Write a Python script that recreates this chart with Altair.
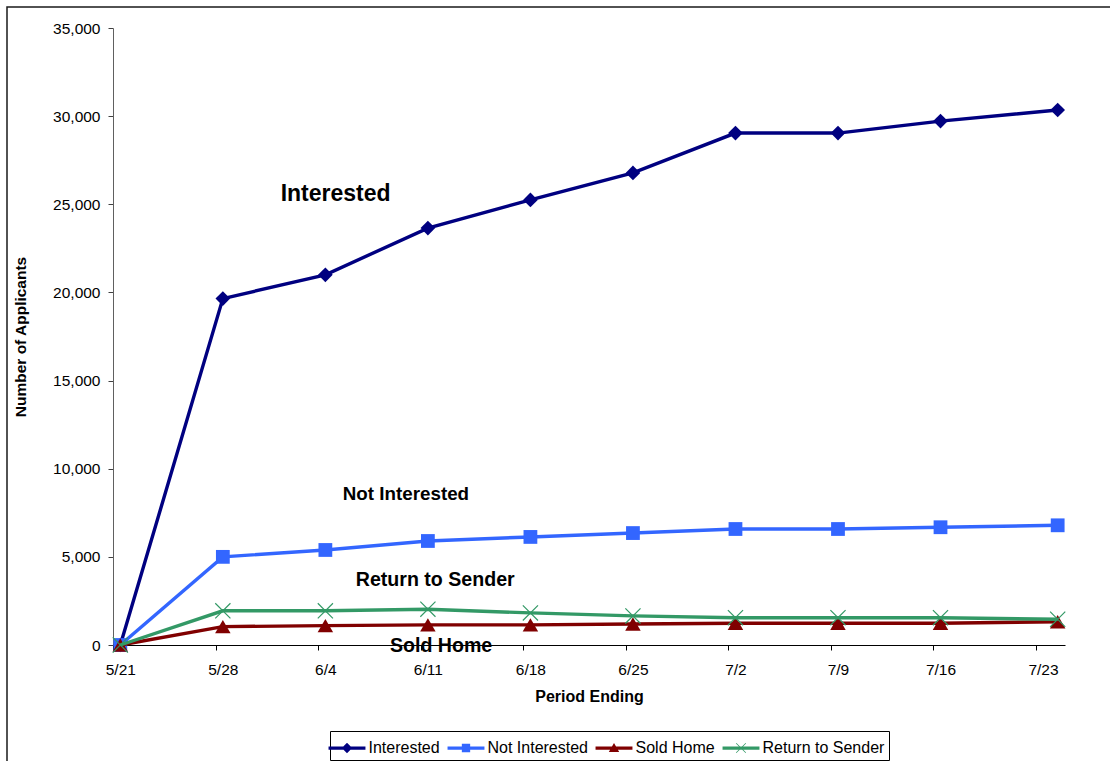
import json
import altair as alt
import pandas as pd

# Weekly reporting periods, as day offsets from 5/21 (last report arrived on 7/24)
period_days = [0, 7, 14, 21, 28, 35, 42, 49, 56, 64]
tick_labels = ["5/21", "5/28", "6/4", "6/11", "6/18", "6/25", "7/2", "7/9", "7/16", "7/23"]

series_names = ["Interested", "Not Interested", "Sold Home", "Return to Sender"]
interested = [0, 19650, 21000, 23650, 25250, 26780, 29040, 29040, 29720, 30350]
not_interested = [0, 5000, 5390, 5900, 6130, 6350, 6580, 6580, 6680, 6790]
sold_home = [0, 1040, 1100, 1140, 1140, 1190, 1230, 1230, 1230, 1320]
return_to_sender = [0, 1940, 1940, 2030, 1820, 1650, 1550, 1550, 1550, 1460]
series_colors = ["#000080", "#3366FF", "#800000", "#339966"]

# In-plot series labels
annotation_text = ["Interested", "Not Interested", "Return to Sender", "Sold Home"]
annotation_day = [14.7, 19.5, 21.5, 21.9]
annotation_value = [25200, 8230, 3360, -400]
annotation_size = [23, 18.8, 19.6, 19.6]

FONT = "Liberation Sans"

series_values = [interested, not_interested, sold_home, return_to_sender]
rows = []
for name, vals in zip(series_names, series_values):
    for d, v in zip(period_days, vals):
        rows.append({"series": name, "day": d, "applicants": v})
df = pd.DataFrame(rows)

ann_df = pd.DataFrame({
    "label": annotation_text,
    "day": annotation_day,
    "applicants": annotation_value,
    "fsize": annotation_size,
})

# Marker styles per series
x_path = "M-1,-1L1,1M-1,1L1,-1"
marker_shapes = ["diamond", "square", "triangle-up", x_path]
marker_sizes = [215, 190, 240, 230]
marker_filled = [True, True, True, False]

# Legend symbols: a short line segment with the series marker on top
legend_symbols = [
    "M-1.42,-0.125H1.42V0.125H-1.42Z M0,-0.4L0.4,0L0,0.4L-0.4,0Z",
    "M-1.42,-0.125H1.42V0.125H-1.42Z M-0.32,-0.32H0.32V0.32H-0.32Z",
    "M-1.42,-0.125H1.42V0.125H-1.42Z M0,-0.38L0.4,0.3L-0.4,0.3Z",
    "M-1.42,-0.125H1.42V0.125H-1.42Z "
    "M-0.35,-0.39L0.39,0.35L0.35,0.39L-0.39,-0.35Z "
    "M-0.39,0.35L0.35,-0.39L0.39,-0.35L-0.35,0.39Z",
]

tick_values = [d - 0.5 for d in range(0, 64, 7)]
label_expr = json.dumps(tick_labels) + "[round((datum.value + 0.5) / 7)]"

x_enc = alt.X(
    "day:Q",
    scale=alt.Scale(domain=[-0.5, 64.5], nice=False, zero=False),
    axis=alt.Axis(values=tick_values, labelExpr=label_expr, title="Period Ending"),
)
y_enc = alt.Y(
    "applicants:Q",
    scale=alt.Scale(domain=[0, 35000], nice=False),
    axis=alt.Axis(
        values=list(range(0, 35001, 5000)),
        labelExpr="format(datum.value, ',')",
        title="Number of Applicants",
    ),
)

base = alt.Chart(df)
layers = []

# Outer chart frame
frame = alt.Chart(pd.DataFrame({"f": [0]})).mark_rect(
    fillOpacity=0, stroke="#1a1a1a", strokeWidth=1.5
).encode(
    x=alt.value(-106), x2=alt.value(1400), y=alt.value(-21), y2=alt.value(1000)
)
layers.append(frame)

for i, name in enumerate(series_names):
    sub = base.transform_filter(alt.datum.series == name)
    line = sub.mark_line(strokeWidth=3.4, color=series_colors[i]).encode(x=x_enc, y=y_enc)
    pts = sub.mark_point(
        shape=marker_shapes[i],
        size=marker_sizes[i],
        filled=marker_filled[i],
        color=series_colors[i],
        opacity=1,
        strokeWidth=1.2,
    ).encode(x=x_enc, y=y_enc)
    layers += [line, pts]

# Legend-only layer: no rows drawn, entries come from the explicit scale domains
legend_pos = dict(orient="none", legendX=217, legendY=703, title=None)
legend_layer = base.transform_filter("false").mark_point(
    filled=True, opacity=1, size=676
).encode(
    x=x_enc,
    y=y_enc,
    color=alt.Color(
        "series:N",
        scale=alt.Scale(domain=series_names, range=series_colors),
        legend=alt.Legend(**legend_pos),
    ),
    shape=alt.Shape(
        "series:N",
        scale=alt.Scale(domain=series_names, range=legend_symbols),
        legend=alt.Legend(**legend_pos),
    ),
)
layers.append(legend_layer)

labels = alt.Chart(ann_df).mark_text(
    font=FONT, fontWeight="bold", align="center", baseline="alphabetic", color="#000000"
).encode(
    x=x_enc,
    y=y_enc,
    text="label:N",
    size=alt.Size("fsize:Q", scale=None),
)
layers.append(labels)

chart = (
    alt.layer(*layers)
    .properties(
        width=952,
        height=617,
        autosize=alt.AutoSizeParams(type="none"),
        padding={"left": 113, "top": 28, "right": 45, "bottom": 116},
        background="#ffffff",
    )
    .configure_view(stroke="transparent")
    .configure_axis(
        grid=False,
        labelFont=FONT,
        labelFontSize=15.5,
        labelColor="#000000",
        tickSize=5,
        titleFont=FONT,
        titleFontWeight="bold",
        titleColor="#000000",
    )
    .configure_axisX(
        labelOffset=7.3,
        labelFlush=False,
        labelOverlap=False,
        labelPadding=12,
        tickColor="#000000",
        domainColor="#000000",
        titleFontSize=16,
        titlePadding=11,
    )
    .configure_axisY(
        labelPadding=8,
        tickColor="#404040",
        domainColor="#606060",
        titleFontSize=15.5,
        titlePadding=24,
    )
    .configure_legend(
        direction="horizontal",
        columns=4,
        symbolSize=676,
        symbolStrokeWidth=0,
        labelFont=FONT,
        labelFontSize=16,
        labelColor="#000000",
        labelOffset=8.5,
        columnPadding=7,
        padding=4,
        strokeColor="#000000",
    )
)

chart.save("out.html", embed_options={"renderer": "svg", "actions": False})
